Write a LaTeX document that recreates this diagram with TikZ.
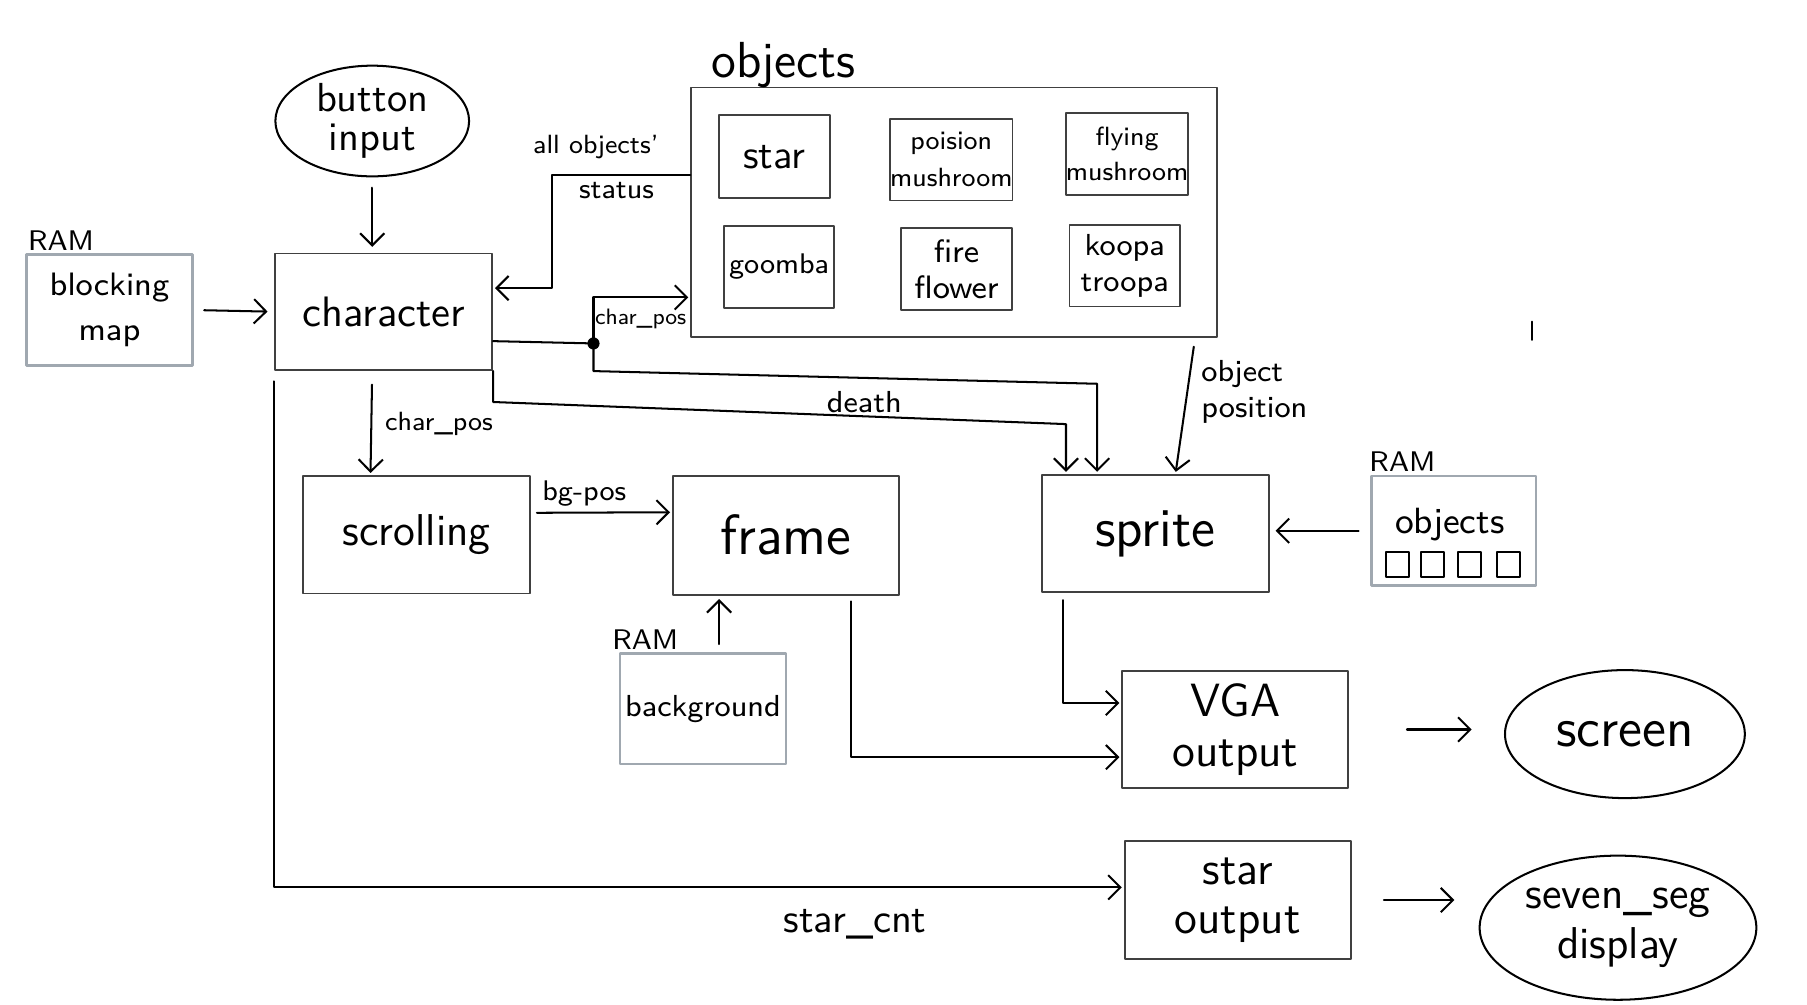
\documentclass[tikz,border=0pt]{standalone}
\usepackage{fontspec}
\usepackage{tikz}
\usetikzlibrary{arrows.meta,shapes.geometric}
\renewcommand{\familydefault}{\sfdefault}
\newcommand{\txtsize}[2]{\fontsize{#1}{#2}\selectfont}
\definecolor{ramgray}{RGB}{160,168,176}

\begin{document}
\begin{tikzpicture}[x=0.01cm,y=-0.01cm,line cap=round,line join=round,
  >={Straight Barb[length=3pt,width=6pt]},
  box/.style n args={2}{draw=black!75,line width=0.45pt,minimum width=#1,minimum height=#2,inner sep=0pt,align=center},
  rambox/.style n args={2}{box={#1}{#2},draw=ramgray,line width=0.6pt},
  blob/.style n args={2}{draw,ellipse,line width=0.5pt,minimum width=#1,minimum height=#2,inner sep=0pt,align=center},
  wire/.style={line width=0.5pt},
  conn/.style={wire,->,shorten >=0.5pt},
  lbl/.style={inner sep=0.5pt,align=left}]
\useasboundingbox (0,0) rectangle (1568,872);

% inputs and the character block
\node[rambox={1.44cm}{0.96cm},font=\txtsize{8pt}{11pt}] (blockmap) at (95,269) {blocking\\map};
\node[lbl,anchor=south west,font=\txtsize{7pt}{8pt}] (ramblock) at (blockmap.north west) {RAM};
\node[box={1.88cm}{1.01cm},font=\txtsize{10.5pt}{12pt}] (character) at (333,270.5) {character};
\node[blob={1.68cm}{0.96cm},font=\txtsize{10pt}{9.5pt}] (button) at (323,105) {button\\input};

% objects group
\node[box={4.56cm}{2.16cm}] (objects) at (828,184) {};
\node[lbl,anchor=base west,font=\txtsize{12.5pt}{13pt}] (objtitle) at (615,67) {objects};
\node[box={0.96cm}{0.72cm},font=\txtsize{10pt}{11pt}] (star) at (672,136) {star};
\node[box={0.95cm}{0.71cm},font=\txtsize{6.5pt}{9pt}] (poison) at (825.5,138.5) {poision\\mushroom};
\node[box={0.96cm}{0.71cm},font=\txtsize{6.5pt}{8.5pt}] (flying) at (978,133.5) {flying\\mushroom};
\node[box={0.96cm}{0.71cm},font=\txtsize{7pt}{9pt}] (goomba) at (676,231.5) {goomba};
\node[box={0.96cm}{0.71cm},font=\txtsize{8pt}{9pt}] (fireflower) at (830,233.5) {fire\\flower};
\node[box={0.96cm}{0.71cm},font=\txtsize{7.5pt}{9pt}] (koopa) at (976,230.5) {koopa\\troopa};

% middle row
\node[box={1.97cm}{1.02cm},font=\txtsize{11pt}{12pt}] (scrolling) at (361.5,464) {scrolling};
\node[box={1.96cm}{1.03cm},font=\txtsize{14pt}{15pt}] (frame) at (682,464.5) {frame};
\node[rambox={1.44cm}{0.96cm},font=\txtsize{7.5pt}{9pt}] (background) at (610,615) {background};
\node[lbl,anchor=south west,font=\txtsize{7pt}{8pt}] (rambg) at ([xshift=-0.08cm]background.north west) {RAM};
\node[box={1.97cm}{1.02cm},font=\txtsize{13.5pt}{15pt}] (sprite) at (1002.5,463) {sprite};
\node[rambox={1.43cm}{0.95cm}] (ramobj) at (1261.5,460.5) {};
\node[lbl,font=\txtsize{9pt}{10pt}] (ramobjtxt) at (1258,455) {objects};
\node[lbl,anchor=south west,font=\txtsize{7pt}{8pt}] (ramobjs) at ([xshift=-0.03cm]ramobj.north west) {RAM};
\foreach \sx in {1213,1243,1275,1309}
  \draw[wire] (\sx-10,479) rectangle (\sx+10,501);

% outputs
\node[box={1.96cm}{1.02cm},font=\txtsize{11.5pt}{12.5pt}] (vga) at (1072,633) {VGA\\output};
\node[blob={2.08cm}{1.11cm},font=\txtsize{13.5pt}{15pt}] (screen) at (1410,637) {screen};
\node[box={1.96cm}{1.02cm},font=\txtsize{11.5pt}{12pt}] (starout) at (1074,781) {star\\output};
\node[blob={2.4cm}{1.25cm},font=\txtsize{11pt}{12.5pt}] (sevenseg) at (1404,805) {seven\_seg\\display};

% connectors
\draw[conn,shorten <=0.09cm,shorten >=0.06cm] (blockmap.east) -- (character.west);
\draw[conn,shorten <=0.09cm,shorten >=0.05cm] (button.south) -- (button.south |- character.north);
\draw[conn] ([yshift=0.32cm]objects.west) -- ++(-120,0) |- ([yshift=0.205cm]character.east);
\node[lbl,font=\txtsize{6.5pt}{8pt}] (lblall) at (517,128) {all objects'};
\node[lbl,font=\txtsize{7pt}{8pt}] (lblstatus) at (535,165) {status};

\coordinate (tap) at (515,298);
\draw[wire] ([yshift=-0.255cm]character.east) -- (tap);
\fill (tap) circle (1.5pt);
\draw[conn] (tap) |- ([yshift=-0.74cm]objects.west);
\node[lbl,font=\txtsize{5.5pt}{7pt}] (lblcpos) at (556,277) {char\_pos};
\coordinate (cposbend) at (952,333);
\draw[conn] (tap) -- ++(0,24) -- (cposbend) -- (cposbend |- sprite.north);

\coordinate (deathbend) at (925,368);
\draw[conn] (character.south east) -- ++(0,27) -- (deathbend) -- (deathbend |- sprite.north);
\node[lbl,anchor=south,font=\txtsize{7.5pt}{9pt}] (lbldeath) at (750,361) {death};

\draw[conn] ([xshift=-0.21cm,yshift=-0.08cm]objects.south east) -- ([xshift=0.175cm]sprite.north);
\node[lbl,anchor=west,font=\txtsize{7.5pt}{9pt}] (lblobjpos) at (1040,340) {object\\position};

\draw[conn,shorten <=0.12cm] ([xshift=-0.1cm]character.south) -- ([xshift=-0.4cm]scrolling.north);
\node[lbl,font=\txtsize{6.5pt}{8pt}] (lblcpos2) at (381,368) {char\_pos};

\draw[conn,shorten <=0.05cm] ([yshift=0.19cm]scrolling.east) -- ([yshift=0.2cm]frame.west);
\node[lbl,font=\txtsize{7pt}{8pt}] (lblbg) at (507,428) {bg-pos};

\draw[conn,shorten <=0.07cm,shorten >=0.03cm] ([xshift=0.14cm]background.north) -- ([xshift=0.14cm]background.north |- frame.south);
\draw[conn,shorten <=0.05cm] ([xshift=0.56cm]frame.south) |- ([yshift=-0.24cm]vga.west);
\draw[conn,shorten <=0.06cm] ([xshift=-0.8cm]sprite.south) |- ([yshift=0.23cm]vga.west);
\draw[conn,shorten <=0.1cm,shorten >=0.05cm] (ramobj.west) -- (ramobj.west -| sprite.east);

\draw[conn,shorten <=0.5cm,shorten >=0.28cm] (vga.east) -- (vga.east -| screen.west);
\draw[conn,shorten <=0.28cm,shorten >=0.21cm] (starout.east) -- (starout.east -| sevenseg.west);

\draw[conn] ([yshift=-0.09cm]character.south west) |- ([yshift=0.11cm]starout.west);
\node[lbl,font=\txtsize{10pt}{11pt}] (lblstarcnt) at (742,802) {star\_cnt};

\draw[wire] (1329,279) -- (1329,295);
\end{tikzpicture}
\end{document}
